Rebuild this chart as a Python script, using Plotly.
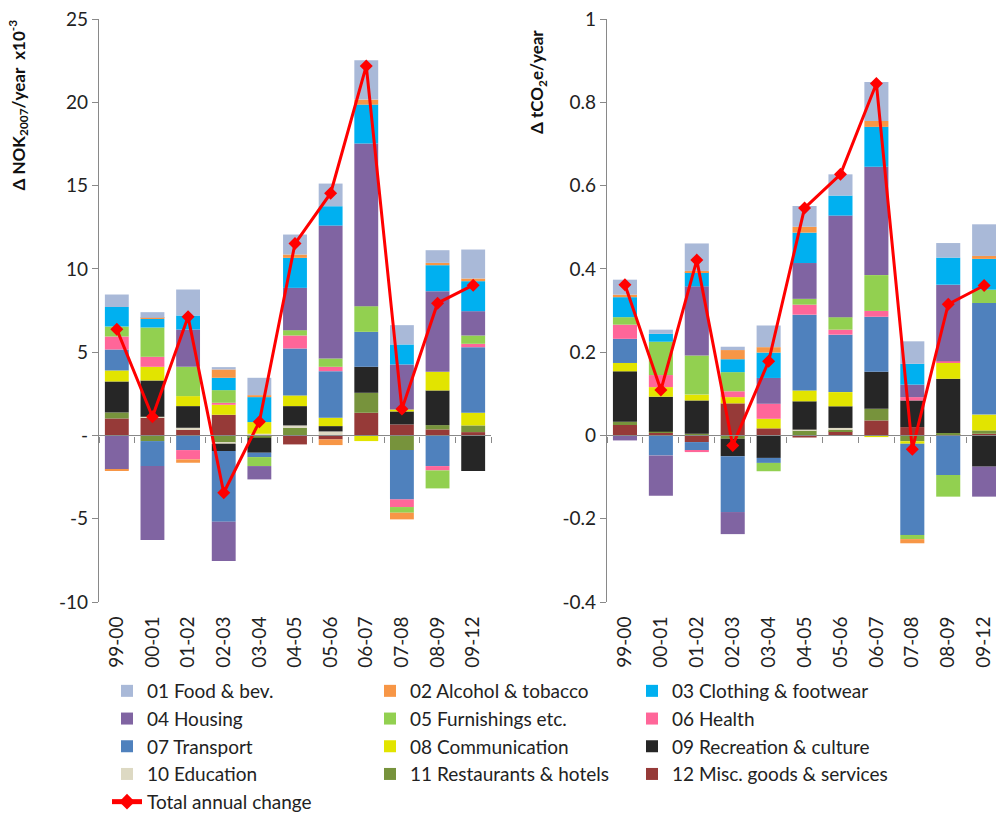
import numpy as np
import plotly.graph_objects as go

periods = ["99-00", "00-01", "01-02", "02-03", "03-04", "04-05",
           "05-06", "06-07", "07-08", "08-09", "09-12"]

categories = ["01 Food & bev.", "02 Alcohol & tobacco", "03 Clothing & footwear",
              "04 Housing", "05 Furnishings etc.", "06 Health",
              "07 Transport", "08 Communication", "09 Recreation & culture",
              "10 Education", "11 Restaurants & hotels", "12 Misc. goods & services"]

colors = ["#A9B9D8", "#F79646", "#00B0F0", "#8064A2", "#92D050", "#FF6699",
          "#4F81BD", "#E2E400", "#262626", "#DDD9C3", "#77933C", "#963A38"]

# Expenditure change, NOK2007 per year (x10^-3), by COICOP group
nok_food = [0.75, 0.34, 1.56, 0.14, 1.04, 1.20, 1.36, 2.36, 1.16, 0.76, 1.74]
nok_alcohol = [-0.05, 0.06, -0.20, 0.50, 0.12, 0.20, -0.34, 0.30, -0.40, 0.14, 0.16]
nok_clothing = [1.17, 0.52, 0.84, 0.74, 1.50, 1.80, 1.16, 2.34, 1.20, 1.56, 1.80]
nok_housing = [-2.04, -4.44, 2.24, -2.36, -0.80, 2.54, 7.98, 9.76, 2.70, 4.84, 1.46]
nok_furnish = [0.60, 1.76, 1.76, 0.76, -0.54, 0.32, 0.50, 1.54, -0.34, -1.08, 0.50]
nok_health = [0.78, 0.60, -0.56, 0.12, 0.00, 0.78, 0.26, 0.00, -0.46, -0.26, 0.20]
nok_transport = [1.26, -1.50, -0.88, -4.24, -0.26, 2.82, 2.80, 2.10, -2.96, -1.84, 3.94]
nok_comm = [0.66, 0.82, 0.60, 0.60, 0.70, 0.64, 0.50, -0.34, 0.12, 1.12, 0.76]
nok_recreation = [1.86, 2.18, 1.30, -0.44, -0.90, 1.16, 0.32, 1.56, 0.78, 2.08, -2.14]
nok_education = [0.00, 0.06, 0.10, -0.06, 0.10, 0.14, 0.24, 0.00, 0.00, 0.00, 0.00]
nok_restaurants = [0.36, -0.34, 0.00, -0.44, -0.10, 0.46, 0.00, 1.20, -0.88, 0.26, 0.40]
nok_misc = [1.02, 1.06, 0.36, 1.24, -0.04, -0.54, -0.24, 1.36, 0.66, 0.36, 0.20]

# Emission change, tCO2e per year, by COICOP group
co2_food = [0.036, 0.010, 0.066, 0.008, 0.052, 0.050, 0.051, 0.094, 0.054, 0.035, 0.076]
co2_alcohol = [0.006, 0.000, 0.003, 0.022, 0.013, 0.014, 0.000, 0.014, -0.010, 0.000, 0.007]
co2_clothing = [0.048, 0.019, 0.034, 0.031, 0.061, 0.073, 0.048, 0.096, 0.050, 0.065, 0.074]
co2_housing = [-0.012, -0.097, 0.166, -0.053, 0.062, 0.086, 0.244, 0.260, 0.030, 0.184, -0.072]
co2_furnish = [0.018, 0.080, 0.094, 0.046, -0.020, 0.014, 0.030, 0.086, -0.010, -0.052, 0.032]
co2_health = [0.034, 0.029, -0.004, 0.014, 0.036, 0.024, 0.012, 0.014, 0.008, 0.004, 0.000]
co2_transport = [0.058, -0.048, -0.020, -0.134, -0.012, 0.182, 0.138, 0.132, -0.219, -0.095, 0.268]
co2_comm = [0.020, 0.023, 0.014, 0.015, 0.023, 0.026, 0.034, -0.004, -0.006, 0.038, 0.038]
co2_recreation = [0.121, 0.084, 0.080, -0.042, -0.054, 0.068, 0.052, 0.089, 0.064, 0.130, -0.075]
co2_education = [0.000, 0.000, 0.000, 0.000, 0.000, 0.002, 0.004, 0.000, 0.000, 0.000, 0.000]
co2_restaurants = [0.008, 0.003, 0.004, -0.008, 0.000, 0.012, 0.004, 0.028, -0.014, 0.004, 0.008]
co2_misc = [0.025, 0.006, -0.016, 0.077, 0.017, -0.005, 0.010, 0.036, 0.020, 0.002, 0.004]

nok_series = [nok_food, nok_alcohol, nok_clothing, nok_housing, nok_furnish, nok_health,
              nok_transport, nok_comm, nok_recreation, nok_education, nok_restaurants, nok_misc]
co2_series = [co2_food, co2_alcohol, co2_clothing, co2_housing, co2_furnish, co2_health,
              co2_transport, co2_comm, co2_recreation, co2_education, co2_restaurants, co2_misc]

nok_total = np.sum(np.array(nok_series), axis=0)
co2_total = np.sum(np.array(co2_series), axis=0)

nok_ticks = [25, 20, 15, 10, 5, 0, -5, -10]
nok_ticktext = ["25", "20", "15", "10", "5", "-", "-5", "-10"]
co2_ticks = [1, 0.8, 0.6, 0.4, 0.2, 0, -0.2, -0.4]
co2_ticktext = ["1", "0.8", "0.6", "0.4", "0.2", "0", "-0.2", "-0.4"]

FONT = "Lato, Open Sans, Arial, sans-serif"
AXIS_GREY = "#898989"
W, H = 996, 816

# legend laid out as three columns, filled row by row
legend_ids = ["legend", "legend2", "legend3"]

fig = go.Figure()

# stacked bars: group 12 sits nearest zero, group 01 outermost
for i in reversed(range(12)):
    fig.add_trace(go.Bar(
        x=periods, y=nok_series[i], name=categories[i],
        marker=dict(color=colors[i], line=dict(width=0)),
        legendgroup=categories[i], legendrank=i + 1, legend=legend_ids[i % 3],
        xaxis="x", yaxis="y"))
    fig.add_trace(go.Bar(
        x=periods, y=co2_series[i], name=categories[i],
        marker=dict(color=colors[i], line=dict(width=0)),
        legendgroup=categories[i], showlegend=False,
        xaxis="x2", yaxis="y2"))

line_style = dict(color="#FF0000", width=3)
marker_style = dict(symbol="diamond", size=10, color="#FF0000")
fig.add_trace(go.Scatter(
    x=periods, y=nok_total, mode="lines+markers", name="Total annual change",
    line=line_style, marker=marker_style, legendgroup="total", legendrank=13,
    legend="legend", xaxis="x3", yaxis="y"))
fig.add_trace(go.Scatter(
    x=periods, y=co2_total, mode="lines+markers", name="Total annual change",
    line=line_style, marker=marker_style, legendgroup="total", showlegend=False,
    xaxis="x4", yaxis="y2"))

y_dom = [(H - 602) / H, (H - 19) / H]
x1_dom = [99 / W, 491 / W]
x2_dom = [607 / W, 1.0]
zero_pos = y_dom[0] + (10 / 35) * (y_dom[1] - y_dom[0])

tick_font = dict(family=FONT, size=19, color="#222222")

label_axis = dict(type="category", categoryorder="array", categoryarray=periods,
                  showline=False, ticks="outside", ticklen=6,
                  tickcolor="rgba(0,0,0,0)", tickangle=-90, tickfont=tick_font,
                  showgrid=False, zeroline=False, automargin=False, fixedrange=True)
zero_axis = dict(type="category", categoryorder="array", categoryarray=periods,
                 showline=True, linecolor=AXIS_GREY, linewidth=1.3,
                 ticks="outside", tickson="boundaries", ticklen=6, tickcolor=AXIS_GREY,
                 showticklabels=False, showgrid=False, zeroline=False,
                 anchor="free", position=zero_pos, automargin=False)
value_axis = dict(showline=True, linecolor=AXIS_GREY, linewidth=1.3,
                  ticks="outside", ticklen=6, tickcolor=AXIS_GREY,
                  tickfont=tick_font, showgrid=False, zeroline=False,
                  automargin=False, domain=y_dom)

legend_font = dict(family=FONT, size=19, color="#222222")
legend_top = (H - 672) / H


def legend_column(x_px):
    return dict(orientation="v", x=x_px / W, y=legend_top,
                xanchor="left", yanchor="top", font=legend_font,
                traceorder="normal", itemsizing="constant",
                bgcolor="rgba(0,0,0,0)")


fig.update_layout(
    width=W, height=H,
    margin=dict(l=0, r=0, t=0, b=0, autoexpand=False),
    paper_bgcolor="white", plot_bgcolor="rgba(0,0,0,0)",
    barmode="relative", bargap=0.33,
    font=dict(family=FONT, size=19, color="#222222"),
    xaxis=dict(label_axis, domain=x1_dom, anchor="y", range=[-0.5, 10.5]),
    xaxis2=dict(label_axis, domain=x2_dom, anchor="y2", range=[-0.5, 10.33]),
    xaxis3=dict(zero_axis, overlaying="x", range=[-0.5, 10.5]),
    xaxis4=dict(zero_axis, overlaying="x2", range=[-0.5, 10.33]),
    yaxis=dict(value_axis, anchor="x", range=[-10, 25],
               tickvals=nok_ticks, ticktext=nok_ticktext),
    yaxis2=dict(value_axis, anchor="x2", range=[-0.4, 1.0],
                tickvals=co2_ticks, ticktext=co2_ticktext),
    legend=legend_column(107),
    legend2=legend_column(370),
    legend3=legend_column(632),
    showlegend=True,
)

fig.add_annotation(
    text="<b>Δ NOK<sub>2007</sub>/year  x10<sup>-3</sup></b>",
    xref="paper", yref="paper", x=18 / W, y=(H - 18) / H,
    xanchor="center", yanchor="top", textangle=-90, showarrow=False,
    font=dict(family=FONT, size=17, color="#111111"))
fig.add_annotation(
    text="<b>Δ tCO<sub>2</sub>e/year</b>",
    xref="paper", yref="paper", x=538 / W, y=(H - 28) / H,
    xanchor="center", yanchor="top", textangle=-90, showarrow=False,
    font=dict(family=FONT, size=17, color="#111111"))

fig.write_html("out.html")
